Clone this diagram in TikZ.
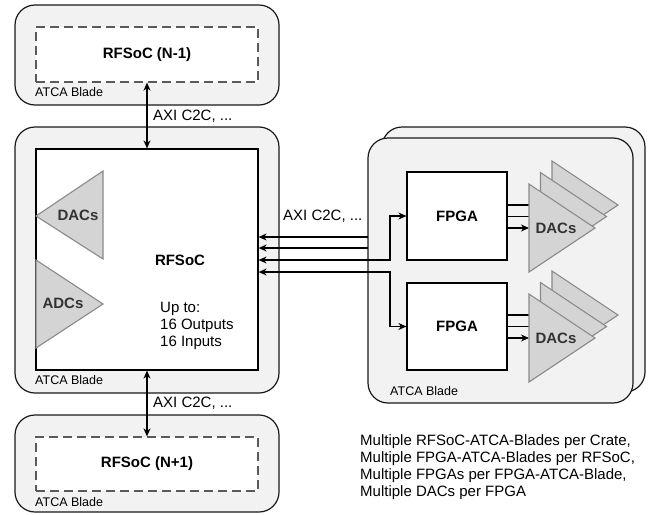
\documentclass[tikz,border=0pt]{standalone}
\usepackage{fontspec}
\setmainfont{Liberation Sans}
\usetikzlibrary{arrows.meta}
\definecolor{bladefill}{HTML}{F2F2F2}
\definecolor{trifill}{HTML}{D4D4D4}
\definecolor{tristroke}{HTML}{8A8A8A}
\definecolor{dashgray}{HTML}{5A5A5A}
\definecolor{dactext}{HTML}{333333}
\tikzset{
  every node/.style={font=\fontsize{15}{17}\selectfont, inner sep=0pt},
  blade/.style={draw=black!90, fill=bladefill, rounded corners=20pt, line width=1.2pt},
  dashbox/.style={draw=dashgray, fill=white, dash pattern=on 9pt off 5pt, line width=1.3pt},
  chip/.style={draw=black, fill=white, line width=1.2pt},
  tri/.style={draw=tristroke, fill=trifill, line width=1.1pt},
  trilabel/.style={font=\bfseries\fontsize{15}{17}\selectfont, text=dactext},
  bladelabel/.style={anchor=west, font=\fontsize{12.5}{14}\selectfont},
  conn/.style={draw=black, line width=1.2pt},
  tip/.style={-{Stealth[length=8pt,width=7pt,inset=2.5pt]}},
  tips/.style={{Stealth[length=8pt,width=7pt,inset=2.5pt]}-{Stealth[length=8pt,width=7pt,inset=2.5pt]}},
}
\begin{document}
\begin{tikzpicture}[x=1pt,y=-1pt]
\useasboundingbox (0,0) rectangle (655,514);

% ---- left column blades ----
\node[blade, minimum width=264pt, minimum height=100pt] (bladeA) at (147,55) {};
\node[dashbox, minimum width=222pt, minimum height=55pt] (rfsocA) at (147,54.5) {};
\node[font=\bfseries\fontsize{15}{17}\selectfont] (rfsocAlbl) at (147,55) {RFSoC (N-1)};
\node[bladelabel] (bladeAlbl) at (35,92) {ATCA Blade};

\node[blade, minimum width=264pt, minimum height=266pt] (bladeM) at (147,260) {};
\node[chip, minimum width=222pt, minimum height=221pt] (rfsoc) at (147,259.5) {};
\node[bladelabel] (bladeMlbl) at (35,380) {ATCA Blade};

\node[blade, minimum width=264pt, minimum height=97pt] (bladeB) at (147,463.5) {};
\node[dashbox, minimum width=222pt, minimum height=54pt] (rfsocB) at (147,464) {};
\node[font=\bfseries\fontsize{15}{17}\selectfont] (rfsocBlbl) at (147,464) {RFSoC (N+1)};
\node[bladelabel] (bladeBlbl) at (35,502) {ATCA Blade};

% RFSoC internals
\filldraw[tri] (36,216) -- (103,171) -- (103,259) -- cycle;
\node[trilabel] (dacL) at (78,215) {DACs};
\filldraw[tri] (36,260) -- (103,304) -- (36,348) -- cycle;
\node[trilabel] (adcL) at (63,303) {ADCs};
\node[font=\bfseries\fontsize{15}{17}\selectfont] (rfsoclbl) at (180,260) {RFSoC};
\node[anchor=west, align=left] (upto) at (160,326) {Up to:\\16 Outputs\\16 Inputs};

% vertical links
\draw[conn, tips] (rfsocA.south) -- (rfsoc.north);
\node[anchor=west] (axiA) at (153,116) {AXI C2C, ...};
\draw[conn, tips] (rfsoc.south) -- (rfsocB.north);
\node[anchor=west] (axiB) at (153,403) {AXI C2C, ...};

% ---- right blades ----
\node[blade, minimum width=263pt, minimum height=265pt] (bladeR2) at (513.5,259.5) {};
\node[blade, minimum width=265pt, minimum height=265pt] (bladeR) at (500.5,270.5) {};
\node[bladelabel] (bladeRlbl) at (390,391) {ATCA Blade};

\node[chip, minimum width=100pt, minimum height=88pt] (fpga1) at (457,216) {};
\node[font=\bfseries\fontsize{15}{17}\selectfont] (fpga1lbl) at (457,216) {FPGA};
\node[chip, minimum width=100pt, minimum height=87pt] (fpga2) at (457,326.5) {};
\node[font=\bfseries\fontsize{15}{17}\selectfont] (fpga2lbl) at (457,326.5) {FPGA};

% links RFSoC <-> FPGA blade
\coordinate (e1) at (368,237);
\coordinate (e2) at (368,248);
\coordinate (j1) at (390,260);
\coordinate (j2) at (390,272);
\draw[conn, tip] (e1) -- (e1 -| rfsoc.east);
\draw[conn, tip] (e2) -- (e2 -| rfsoc.east);
\draw[conn, tips] (j1 -| rfsoc.east) -- (j1) -- (j1 |- fpga1.west) -- (fpga1.west);
\draw[conn, tips] (j2 -| rfsoc.east) -- (j2) -- (j2 |- fpga2.west) -- (fpga2.west);
\node[anchor=west] (axiC) at (283,216) {AXI C2C, ...};

% FPGA -> DAC links (drawn below the triangles)
\coordinate (d1a) at (552,205);
\coordinate (d1b) at (540.5,216.5);
\coordinate (d1c) at (529,228);
\coordinate (d2a) at (552,315);
\coordinate (d2b) at (540.5,326.5);
\coordinate (d2c) at (529,338);
\draw[conn, tip] (fpga1.east |- d1a) -- (d1a);
\draw[conn, tip] (fpga1.east |- d1b) -- (d1b);
\draw[conn, tip] (fpga1.east |- d1c) -- (d1c);
\draw[conn, tip] (fpga2.east |- d2a) -- (d2a);
\draw[conn, tip] (fpga2.east |- d2b) -- (d2b);
\draw[conn, tip] (fpga2.east |- d2c) -- (d2c);

% DAC triangle stacks
\foreach \dx/\dy in {23/-23, 11.5/-11.5, 0/0}{
  \filldraw[tri] (529+\dx,184+\dy) -- (595+\dx,228+\dy) -- (529+\dx,272+\dy) -- cycle;
  \filldraw[tri] (529+\dx,294+\dy) -- (595+\dx,338+\dy) -- (529+\dx,382+\dy) -- cycle;
}
\node[trilabel] (dac1) at (556,228) {DACs};
\node[trilabel] (dac2) at (556,338) {DACs};

% note
\node[anchor=west, align=left] (note) at (360,467) {Multiple RFSoC-ATCA-Blades per Crate,\\Multiple FPGA-ATCA-Blades per RFSoC,\\Multiple FPGAs per FPGA-ATCA-Blade,\\Multiple DACs per FPGA};
\end{tikzpicture}
\end{document}
